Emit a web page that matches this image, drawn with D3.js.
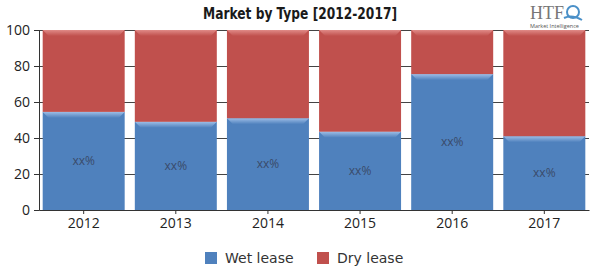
<!DOCTYPE html>
<html>
<head>
<meta charset="utf-8">
<script src="https://cdn.jsdelivr.net/npm/d3@7"></script>
<style>
  body { margin: 0; background: #fff; }
  svg { display: block; font-family: "Open Sans", "DejaVu Sans", sans-serif; }
</style>
</head>
<body>
<svg id="chart" width="600" height="270"></svg>
<script>
// data
var years = ['2012', '2013', '2014', '2015', '2016', '2017'];
var wetLease = [54.5, 49, 51, 43.5, 75.5, 41];
var dryLease = [45.5, 51, 49, 56.5, 24.5, 59];
var yTicks = [0, 20, 40, 60, 80, 100];
var seriesNames = ['Wet lease', 'Dry lease'];
var colors = ['#4f81bd', '#c0504d'];
var lightColors = ['#9dbde6', '#e08a87'];

var margin = { top: 30, left: 39, bottom: 60, right: 11 };
var svg = d3.select('#chart');
var width = +svg.attr('width') - margin.left - margin.right;
var height = +svg.attr('height') - margin.top - margin.bottom;

var rows = years.map(function(y, i) {
  return { year: y, wet: wetLease[i], dry: dryLease[i] };
});
var stacked = d3.stack().keys(['wet', 'dry'])(rows);

var xScale = d3.scaleBand().domain(years).range([0, width])
  .paddingInner(0.11).paddingOuter(0.04);
var yScale = d3.scaleLinear().domain([0, 100]).range([height, 0]);

var g = svg.append('g').attr('transform', 'translate(' + margin.left + ',' + margin.top + ')');

// gradients for the bevel
var defs = svg.append('defs');
colors.forEach(function(c, i) {
  var grad = defs.append('linearGradient').attr('id', 'bev' + i)
    .attr('x1', 0).attr('y1', 0).attr('x2', 0).attr('y2', 1);
  grad.append('stop').attr('offset', '0%').attr('stop-color', lightColors[i]);
  grad.append('stop').attr('offset', '100%').attr('stop-color', c);
});

// grid lines
g.append('g').selectAll('line').data(yTicks.slice(1)).enter().append('line')
  .attr('x1', 0).attr('x2', width)
  .attr('y1', function(d) { return yScale(d) + 0.5; })
  .attr('y2', function(d) { return yScale(d) + 0.5; })
  .attr('stroke', '#444').attr('stroke-width', 1);

// bars
var bevel = 6;
stacked.forEach(function(layer, li) {
  var lg = g.append('g');
  lg.selectAll('rect').data(layer).enter().append('rect')
    .attr('x', function(d) { return xScale(d.data.year); })
    .attr('y', function(d) { return yScale(d[1]); })
    .attr('width', xScale.bandwidth())
    .attr('height', function(d) { return yScale(d[0]) - yScale(d[1]); })
    .attr('fill', colors[li]);
  lg.selectAll('path').data(layer).enter().append('path')
    .attr('d', function(d) {
      var x0 = xScale(d.data.year), x1 = x0 + xScale.bandwidth(), y0 = yScale(d[1]);
      return 'M' + x0 + ',' + y0 + 'L' + x1 + ',' + y0 +
        'L' + (x1 - bevel) + ',' + (y0 + bevel) + 'L' + (x0 + bevel) + ',' + (y0 + bevel) + 'Z';
    })
    .attr('fill', 'url(#bev' + li + ')');
});

// value labels
g.append('g').selectAll('text').data(stacked[0]).enter().append('text')
  .attr('x', function(d) { return xScale(d.data.year) + xScale.bandwidth() / 2; })
  .attr('y', function(d) { return (yScale(d[0]) + yScale(d[1])) / 2 + 4; })
  .attr('text-anchor', 'middle')
  .attr('font-size', 12)
  .attr('fill', '#3a4b6a')
  .text('xx%');

// axes
var yAxis = d3.axisLeft(yScale).tickValues(yTicks).tickSize(5).tickPadding(4);
var yg = g.append('g').call(yAxis);
yg.select('.domain').attr('stroke', '#333');
yg.selectAll('.tick line').attr('stroke', '#333');
yg.selectAll('.tick text').attr('font-size', 14).attr('fill', '#222')
  .attr('font-family', '"Open Sans", sans-serif');

var xAxis = d3.axisBottom(xScale).tickSize(4).tickSizeOuter(0).tickPadding(4);
var xg = g.append('g').attr('transform', 'translate(0,' + height + ')').call(xAxis);
xg.select('.domain').attr('stroke', '#333');
xg.selectAll('.tick line').attr('stroke', '#333');
xg.selectAll('.tick text').attr('font-size', 14).attr('fill', '#222')
  .attr('font-family', '"Open Sans", sans-serif');

// title
svg.append('text')
  .attr('x', 203).attr('y', 19)
  .attr('font-family', '"DejaVu Sans Condensed", "DejaVu Sans", sans-serif')
  .attr('font-weight', 'bold')
  .attr('font-size', 15)
  .attr('textLength', 194)
  .attr('lengthAdjust', 'spacingAndGlyphs')
  .attr('fill', '#1a1a1a')
  .text('Market by Type [2012-2017]');

// logo
var logo = svg.append('g').attr('transform', 'translate(530,0)');
logo.append('text').attr('x', 0).attr('y', 19)
  .attr('font-family', '"Liberation Serif", serif').attr('font-size', 18)
  .attr('fill', '#777').text('HTF');
logo.append('circle').attr('cx', 43).attr('cy', 12).attr('r', 6)
  .attr('fill', 'none').attr('stroke', '#4a90c8').attr('stroke-width', 2);
logo.append('path').attr('d', 'M34,18 Q42,14 52,20').attr('fill', 'none')
  .attr('stroke', '#4a90c8').attr('stroke-width', 2);
logo.append('text').attr('x', 0).attr('y', 28)
  .attr('font-size', 5.5).attr('fill', '#555').text('Market Intelligence');

// legend
var legend = svg.append('g').attr('transform', 'translate(205,252)');
var legX = [0, 112];
seriesNames.forEach(function(name, i) {
  var lg = legend.append('g').attr('transform', 'translate(' + legX[i] + ',0)');
  lg.append('rect').attr('width', 12).attr('height', 12).attr('fill', colors[i]);
  lg.append('text').attr('x', 20).attr('y', 11)
    .attr('font-family', '"DejaVu Sans", sans-serif')
    .attr('font-size', 14).attr('fill', '#333')
    .text(name);
});
</script>
</body>
</html>
